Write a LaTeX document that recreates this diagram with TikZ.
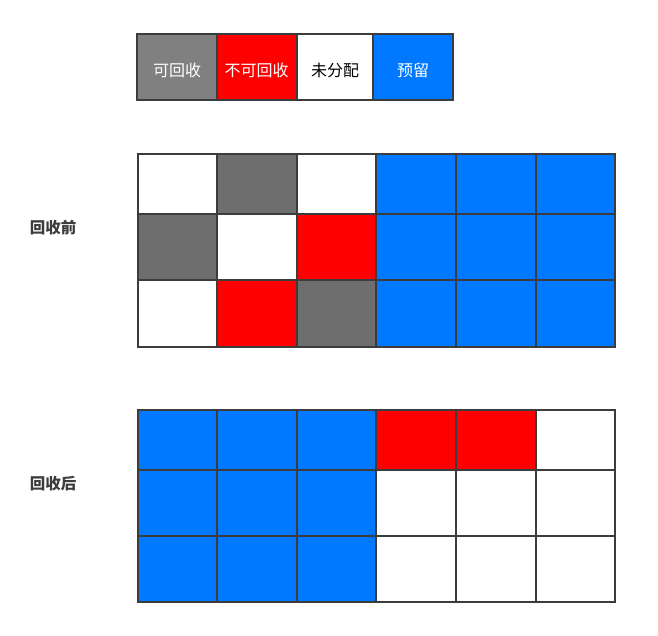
\documentclass[tikz,border=0pt]{standalone}
\usepackage{fontspec}
\newfontfamily\cjk{Noto Sans CJK SC}
\definecolor{gA}{HTML}{808080}
\definecolor{gB}{HTML}{6E6E6E}
\definecolor{rd}{HTML}{FF0000}
\definecolor{bl}{HTML}{0078FF}
\definecolor{wh}{HTML}{FFFFFF}
\definecolor{ln}{HTML}{3C3C3C}
\tikzset{
  cell/.style={draw=ln, line width=1.8pt},
  lbl/.style={font=\cjk\fontsize{16}{16}\selectfont, inner sep=0pt},
  side/.style={font=\cjk\bfseries\fontsize{15.5}{15.5}\selectfont, text=ln, inner sep=0pt}
}
\begin{document}
\begin{tikzpicture}[x=1pt,y=-1pt]
\useasboundingbox (0,0) rectangle (658,636);
% legend
\foreach \c/\xa/\xb/\t/\tc [count=\i] in {gA/137.3/216.7/可回收/white, rd/216.7/296.7/不可回收/white, wh/296.7/373.3/未分配/black, bl/373.3/452.7/预留/white}{
  \fill[\c] (\xa,34.3) rectangle (\xb,100);
  \node[lbl, text=\tc] (leg\i) at ({(\xa+\xb)/2},70) {\t};
}
\foreach \xa/\xb in {137.3/216.7, 216.7/296.7, 296.7/373.3, 373.3/452.7}{
  \draw[cell] (\xa,34.3) rectangle (\xb,100);
}
% column boundaries
\def\cols{138/217,217/297,297/376,376/456,456/536,536/615}
% grid 1
\foreach \row/\ya/\yb in {
  {wh,gB,wh,bl,bl,bl}/154.3/213.7,
  {gB,wh,rd,bl,bl,bl}/213.7/280.3,
  {wh,rd,gB,bl,bl,bl}/280.3/346.7}{
  \foreach \c [count=\k] in \row {
    \fill[\c] ({138+79.5*(\k-1)},\ya) rectangle ({138+79.5*\k},\yb);
  }
}
% grid 2
\foreach \row/\ya/\yb in {
  {bl,bl,bl,rd,rd,wh}/410/469.8,
  {bl,bl,bl,wh,wh,wh}/469.8/536.2,
  {bl,bl,bl,wh,wh,wh}/536.2/602.2}{
  \foreach \c [count=\k] in \row {
    \fill[\c] ({138+79.5*(\k-1)},\ya) rectangle ({138+79.5*\k},\yb);
  }
}
% grid lines
\foreach \ya/\yb in {154.3/213.7, 213.7/280.3, 280.3/346.7, 410/469.8, 469.8/536.2, 536.2/602.2}{
  \foreach \xa/\xb in \cols {
    \draw[cell] (\xa,\ya) rectangle (\xb,\yb);
  }
}
\node[side] (before) at (53,228) {回收前};
\node[side] (after) at (53,484) {回收后};
\end{tikzpicture}
\end{document}
